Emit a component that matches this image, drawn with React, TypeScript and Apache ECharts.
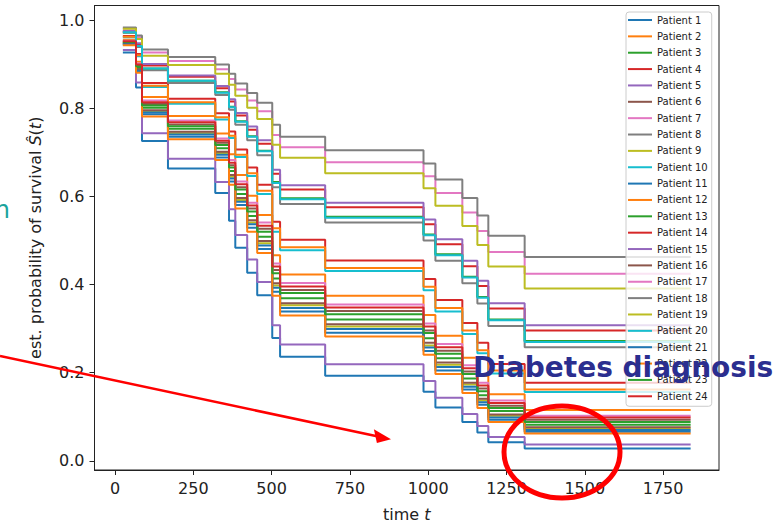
import React, { useEffect, useRef } from "react";
import * as echarts from "echarts";

// event times (t) at which the step curves change
const times = [25, 67, 86, 169, 320, 364, 384, 422, 454, 502, 527, 671, 985, 1023, 1109, 1157, 1192, 1308, 1838];

const xTicks = [0, 250, 500, 750, 1000, 1250, 1500, 1750];
const yTicks = [0, 0.2, 0.4, 0.6, 0.8, 1.0];

const patientNames = Array.from({ length: 24 }, (_, i) => `Patient ${i + 1}`);

const tab10 = ["#1f77b4", "#ff7f0e", "#2ca02c", "#d62728", "#9467bd", "#8c564b", "#e377c2", "#7f7f7f", "#bcbd22", "#17becf"];

const p1 = [0.927, 0.848, 0.726, 0.664, 0.608, 0.545, 0.484, 0.427, 0.376, 0.279, 0.236, 0.193, 0.157, 0.121, 0.088, 0.064, 0.042, 0.028, 0.028];
const p2 = [0.956, 0.906, 0.826, 0.783, 0.743, 0.696, 0.649, 0.602, 0.558, 0.467, 0.423, 0.375, 0.331, 0.284, 0.234, 0.193, 0.151, 0.115, 0.115];
const p3 = [0.949, 0.892, 0.802, 0.754, 0.71, 0.658, 0.606, 0.556, 0.509, 0.414, 0.369, 0.321, 0.278, 0.233, 0.187, 0.149, 0.113, 0.082, 0.082];
const p4 = [0.965, 0.924, 0.858, 0.822, 0.789, 0.748, 0.707, 0.666, 0.627, 0.543, 0.502, 0.455, 0.413, 0.365, 0.313, 0.268, 0.22, 0.177, 0.177];
const p5 = [0.933, 0.859, 0.744, 0.686, 0.633, 0.571, 0.513, 0.457, 0.406, 0.308, 0.264, 0.219, 0.181, 0.143, 0.106, 0.079, 0.054, 0.037, 0.037];
const p6 = [0.952, 0.897, 0.81, 0.764, 0.722, 0.671, 0.621, 0.573, 0.527, 0.433, 0.388, 0.34, 0.296, 0.25, 0.203, 0.164, 0.125, 0.093, 0.093];
const p7 = [0.954, 0.902, 0.818, 0.773, 0.732, 0.683, 0.634, 0.586, 0.541, 0.448, 0.404, 0.355, 0.312, 0.265, 0.217, 0.177, 0.137, 0.102, 0.102];
const p8 = [0.972, 0.94, 0.887, 0.858, 0.831, 0.797, 0.763, 0.728, 0.694, 0.621, 0.583, 0.541, 0.5, 0.454, 0.403, 0.357, 0.306, 0.258, 0.258];
const p9 = [0.947, 0.888, 0.794, 0.744, 0.699, 0.645, 0.592, 0.541, 0.494, 0.398, 0.353, 0.305, 0.262, 0.218, 0.173, 0.137, 0.102, 0.073, 0.073];
const p10 = [0.962, 0.919, 0.849, 0.811, 0.775, 0.733, 0.69, 0.647, 0.606, 0.52, 0.478, 0.431, 0.387, 0.339, 0.288, 0.244, 0.198, 0.156, 0.156];
const p11 = [0.945, 0.884, 0.787, 0.736, 0.689, 0.634, 0.581, 0.529, 0.481, 0.384, 0.339, 0.291, 0.249, 0.205, 0.162, 0.127, 0.093, 0.066, 0.066];
const p12 = [0.963, 0.921, 0.852, 0.814, 0.78, 0.738, 0.695, 0.653, 0.613, 0.528, 0.485, 0.438, 0.395, 0.347, 0.296, 0.251, 0.205, 0.162, 0.162];
const p13 = [0.973, 0.943, 0.891, 0.863, 0.837, 0.804, 0.771, 0.737, 0.704, 0.633, 0.596, 0.554, 0.514, 0.469, 0.418, 0.372, 0.321, 0.272, 0.272];
const p14 = [0.975, 0.946, 0.898, 0.872, 0.846, 0.816, 0.784, 0.752, 0.72, 0.652, 0.616, 0.576, 0.537, 0.492, 0.442, 0.397, 0.346, 0.296, 0.296];
const p15 = [0.976, 0.948, 0.901, 0.875, 0.851, 0.821, 0.79, 0.759, 0.728, 0.661, 0.626, 0.586, 0.548, 0.503, 0.454, 0.409, 0.358, 0.308, 0.308];
const p16 = [0.948, 0.889, 0.796, 0.747, 0.702, 0.649, 0.597, 0.546, 0.499, 0.403, 0.358, 0.31, 0.268, 0.223, 0.177, 0.141, 0.105, 0.076, 0.076];
const p17 = [0.982, 0.962, 0.927, 0.908, 0.889, 0.867, 0.843, 0.818, 0.794, 0.74, 0.712, 0.678, 0.646, 0.608, 0.564, 0.522, 0.474, 0.425, 0.425];
const p18 = [0.984, 0.966, 0.934, 0.917, 0.9, 0.879, 0.857, 0.835, 0.813, 0.763, 0.736, 0.705, 0.675, 0.639, 0.597, 0.557, 0.511, 0.463, 0.463];
const p19 = [0.981, 0.958, 0.92, 0.899, 0.879, 0.854, 0.829, 0.802, 0.776, 0.718, 0.688, 0.653, 0.619, 0.579, 0.533, 0.49, 0.441, 0.391, 0.391];
const p20 = [0.973, 0.942, 0.891, 0.863, 0.836, 0.803, 0.77, 0.736, 0.703, 0.631, 0.594, 0.552, 0.512, 0.467, 0.416, 0.37, 0.319, 0.27, 0.27];
const p21 = [0.946, 0.886, 0.791, 0.741, 0.695, 0.641, 0.588, 0.537, 0.489, 0.393, 0.347, 0.299, 0.257, 0.213, 0.168, 0.133, 0.098, 0.07, 0.07];
const p22 = [0.944, 0.881, 0.782, 0.73, 0.683, 0.627, 0.573, 0.52, 0.472, 0.375, 0.33, 0.282, 0.241, 0.197, 0.154, 0.12, 0.088, 0.062, 0.062];
const p23 = [0.951, 0.896, 0.807, 0.76, 0.717, 0.666, 0.616, 0.566, 0.52, 0.426, 0.381, 0.333, 0.29, 0.243, 0.197, 0.158, 0.12, 0.088, 0.088];
const p24 = [0.953, 0.9, 0.814, 0.769, 0.727, 0.677, 0.628, 0.58, 0.534, 0.441, 0.396, 0.348, 0.305, 0.258, 0.21, 0.171, 0.131, 0.098, 0.098];

const survival = [p1, p2, p3, p4, p5, p6, p7, p8, p9, p10, p11, p12, p13, p14, p15, p16, p17, p18, p19, p20, p21, p22, p23, p24];

const FONT = '"DejaVu Sans", sans-serif';
const INK = "#222222";

export default function App() {
  const ref = useRef<HTMLDivElement>(null);

  useEffect(() => {
    if (!ref.current) return;
    const chart = echarts.init(ref.current, undefined, { renderer: "svg" });

    const series = survival.map((vals, i) => ({
      name: patientNames[i],
      type: "line",
      step: "end",
      symbol: "none",
      showSymbol: false,
      color: tab10[i % 10],
      lineStyle: { width: 2, color: tab10[i % 10] },
      data: times.map((t, j) => [t, vals[j]]),
      z: 2,
    }));

    const option = {
      animation: false,
      backgroundColor: "#ffffff",
      grid: {
        left: 94.5,
        top: 5.5,
        right: 63,
        bottom: 55.2,
        show: true,
        borderColor: INK,
        borderWidth: 1,
        backgroundColor: "transparent",
      },
      xAxis: {
        type: "value",
        min: -65.6,
        max: 1928.6,
        axisLine: { show: true, onZero: false, lineStyle: { color: INK, width: 1 } },
        axisTick: { show: true, length: 5, customValues: xTicks, lineStyle: { color: INK } },
        axisLabel: {
          customValues: xTicks,
          fontSize: 16,
          fontFamily: FONT,
          color: INK,
          margin: 10,
          formatter: (v: number) => String(Math.round(v)),
        },
        splitLine: { show: false },
        name: "{n|time }{i|t}",
        nameLocation: "middle",
        nameGap: 36,
        nameTextStyle: {
          fontSize: 16,
          fontFamily: FONT,
          color: INK,
          rich: {
            n: { fontSize: 16, fontFamily: FONT, color: INK },
            i: { fontSize: 16, fontFamily: FONT, color: INK, fontStyle: "italic" },
          },
        },
      },
      yAxis: {
        type: "value",
        min: -0.021,
        max: 1.034,
        axisLine: { show: true, onZero: false, lineStyle: { color: INK, width: 1 } },
        axisTick: { show: true, length: 5, customValues: yTicks, lineStyle: { color: INK } },
        axisLabel: {
          customValues: yTicks,
          fontSize: 16,
          fontFamily: FONT,
          color: INK,
          margin: 10,
          formatter: (v: number) => v.toFixed(1),
        },
        splitLine: { show: false },
        name: "{n|est. probability of survival }{i|Ŝ}{n|(}{i|t}{n|)}",
        nameLocation: "middle",
        nameRotate: 90,
        nameGap: 51,
        nameTextStyle: {
          fontSize: 16,
          fontFamily: FONT,
          color: INK,
          rich: {
            n: { fontSize: 16, fontFamily: FONT, color: INK },
            i: { fontSize: 16, fontFamily: FONT, color: INK, fontStyle: "italic" },
          },
        },
      },
      legend: {
        orient: "vertical",
        left: 626,
        top: 12,
        padding: [2, 4, 4, 2],
        itemWidth: 24,
        itemHeight: 2,
        itemGap: 4.36,
        icon: "rect",
        textStyle: { fontSize: 10, fontFamily: FONT, color: INK, lineHeight: 12 },
        backgroundColor: "rgba(255,255,255,0.8)",
        borderColor: "#cccccc",
        borderWidth: 1,
        borderRadius: 3,
        data: patientNames,
        z: 5,
      },
      graphic: [
        {
          type: "line",
          z: 100,
          shape: { x1: 0, y1: 356, x2: 377, y2: 436.3 },
          style: { stroke: "#ff0000", lineWidth: 2.5 },
        },
        {
          type: "polygon",
          z: 100,
          shape: { points: [[391, 439.3], [376.9, 443], [373.9, 429.2]] },
          style: { fill: "#ff0000" },
        },
        {
          type: "ellipse",
          z: 100,
          shape: { cx: 562, cy: 452, rx: 58, ry: 46 },
          style: { fill: "none", stroke: "#ff0000", lineWidth: 5 },
        },
        {
          type: "text",
          z: 101,
          x: 473,
          y: 367,
          style: {
            text: "Diabetes diagnosis",
            font: 'bold 28px "DejaVu Sans", sans-serif',
            fill: "#2b2e8f",
            align: "left",
            verticalAlign: "middle",
          },
        },
        {
          type: "text",
          z: 101,
          x: 10,
          y: 210,
          style: {
            text: "n",
            font: '24px "DejaVu Sans", sans-serif',
            fill: "#1ba39c",
            align: "right",
            verticalAlign: "middle",
          },
        },
      ],
      series,
    };

    chart.setOption(option as any);
    return () => chart.dispose();
  }, []);

  return (
    <div
      ref={ref}
      style={{ position: "fixed", left: 0, top: 0, width: 782, height: 527, background: "#fff" }}
    />
  );
}
